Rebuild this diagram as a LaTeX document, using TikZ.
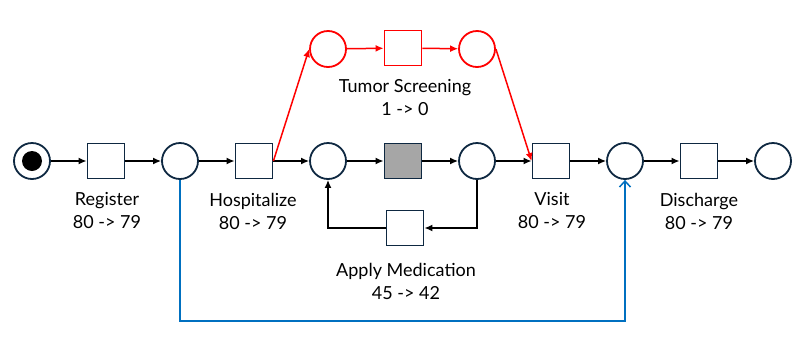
\documentclass[tikz,border=0pt]{standalone}
\usepackage{fontspec}
\setmainfont{Lato}
\usetikzlibrary{arrows.meta}
\definecolor{navy}{HTML}{0E2841}
\definecolor{myred}{HTML}{FF0000}
\definecolor{myblue}{HTML}{0070C0}
\definecolor{tgray}{HTML}{A6A6A6}
\begin{document}
\begin{tikzpicture}[x=1pt,y=-1pt,
  place/.style={circle,draw=navy,line width=1.8pt,minimum size=36pt,inner sep=0pt,fill=white},
  trans/.style={rectangle,draw=navy,line width=1.8pt,minimum width=37pt,minimum height=35pt,inner sep=0pt,fill=white},
  rplace/.style={place,draw=myred},
  rtrans/.style={trans,draw=myred},
  lbl/.style={font=\fontsize{18}{23}\selectfont,align=center,text=black,inner sep=0pt},
  arc/.style={line width=1.5pt,draw=black,-{Latex[length=8pt,width=7pt]}},
  rarc/.style={line width=1.5pt,draw=myred,-{Latex[length=8pt,width=7pt]}},
  barc/.style={line width=1.5pt,draw=myblue,-{Straight Barb[length=6pt,width=11pt,line width=1.5pt]}}]
\useasboundingbox (0,0) rectangle (811,354);
% main row
\node[place] (start) at (32,161) {};
\fill[black] (start.center) circle (10pt);
\node[trans] (reg) at (106,161) {};
\node[place] (p1) at (180,161) {};
\node[trans] (hosp) at (254,161) {};
\node[place] (p2) at (328,161) {};
\node[trans,fill=tgray] (mid) at (403,161) {};
\node[place] (p3) at (477,161) {};
\node[trans] (visit) at (551,161) {};
\node[place] (p4) at (625,161) {};
\node[trans] (dis) at (699,161) {};
\node[place] (pend) at (773,161) {};
% top row
\node[rplace] (rp1) at (328,49) {};
\node[rtrans] (rt) at (403,48) {};
\node[rplace] (rp2) at (477,49) {};
% loop transition
\node[trans] (med) at (405,228) {};
% labels
\node[lbl] (lreg) at (107,211) {Register\\80 -> 79};
\node[lbl] (lhosp) at (253,211) {Hospitalize\\80 -> 79};
\node[lbl] (lvisit) at (552,211) {Visit\\80 -> 79};
\node[lbl] (ldis) at (699,211) {Discharge\\80 -> 79};
\node[lbl] (ltum) at (405,97) {Tumor Screening\\1 -> 0};
\node[lbl] (lmed) at (406,281) {Apply Medication\\45 -> 42};
% arcs
\draw[arc] (start) -- (reg);
\draw[arc] (reg) -- (p1);
\draw[arc] (p1) -- (hosp);
\draw[arc] (hosp) -- (p2);
\draw[arc] (p2) -- (mid);
\draw[arc] (mid) -- (p3);
\draw[arc] (p3) -- (visit);
\draw[arc] (visit) -- (p4);
\draw[arc] (p4) -- (dis);
\draw[arc] (dis) -- (pend);
\draw[arc] (p3.south) |- (med.east);
\draw[arc] (med.west) -| (p2.south);
\draw[rarc] (hosp.east) -- (rp1.west);
\draw[rarc] (rp1) -- (rt);
\draw[rarc] (rt) -- (rp2);
\draw[rarc] (rp2.east) -- (visit.west);
\draw[barc] (p1.south) -- ++(0,141) -| (p4.south);
\end{tikzpicture}
\end{document}
